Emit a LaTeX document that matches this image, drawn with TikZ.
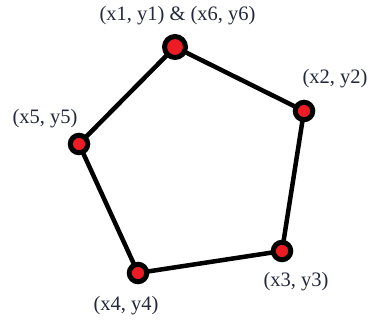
\documentclass[tikz,border=0pt]{standalone}
\usepackage{fontspec}
\setmainfont{Liberation Serif}
\definecolor{lbl}{RGB}{35,40,60}
\definecolor{dotred}{RGB}{237,28,36}
\begin{document}
\begin{tikzpicture}[x=1pt,y=-1pt,
  edge/.style={line width=4.5pt, line cap=round, line join=round},
  pt/.style={circle, fill=dotred, draw=black, line width=5pt, minimum size=17.5pt, inner sep=0pt},
  bigpt/.style={pt, minimum size=21pt},
  lab/.style={text=lbl, font=\fontsize{20.5}{22}\selectfont, inner sep=0pt}]
\useasboundingbox (0,0) rectangle (369,320);
\coordinate (c1) at (175,47);
\coordinate (c2) at (304,111);
\coordinate (c3) at (282,251);
\coordinate (c4) at (138,273);
\coordinate (c5) at (79,144);
\draw[edge] (c1) -- (c2) -- (c3) -- (c4) -- (c5) -- cycle;
\node[bigpt] (p1) at (c1) {};
\node[pt] (p2) at (c2) {};
\node[pt] (p3) at (c3) {};
\node[pt] (p4) at (c4) {};
\node[pt] (p5) at (c5) {};
\node[lab] (l1) at (177.5,16) {(x1, y1) \& (x6, y6)};
\node[lab] (l2) at (335,79) {(x2, y2)};
\node[lab] (l5) at (45,119) {(x5, y5)};
\node[lab] (l3) at (296,282) {(x3, y3)};
\node[lab] (l4) at (126,306) {(x4, y4)};
\end{tikzpicture}
\end{document}
